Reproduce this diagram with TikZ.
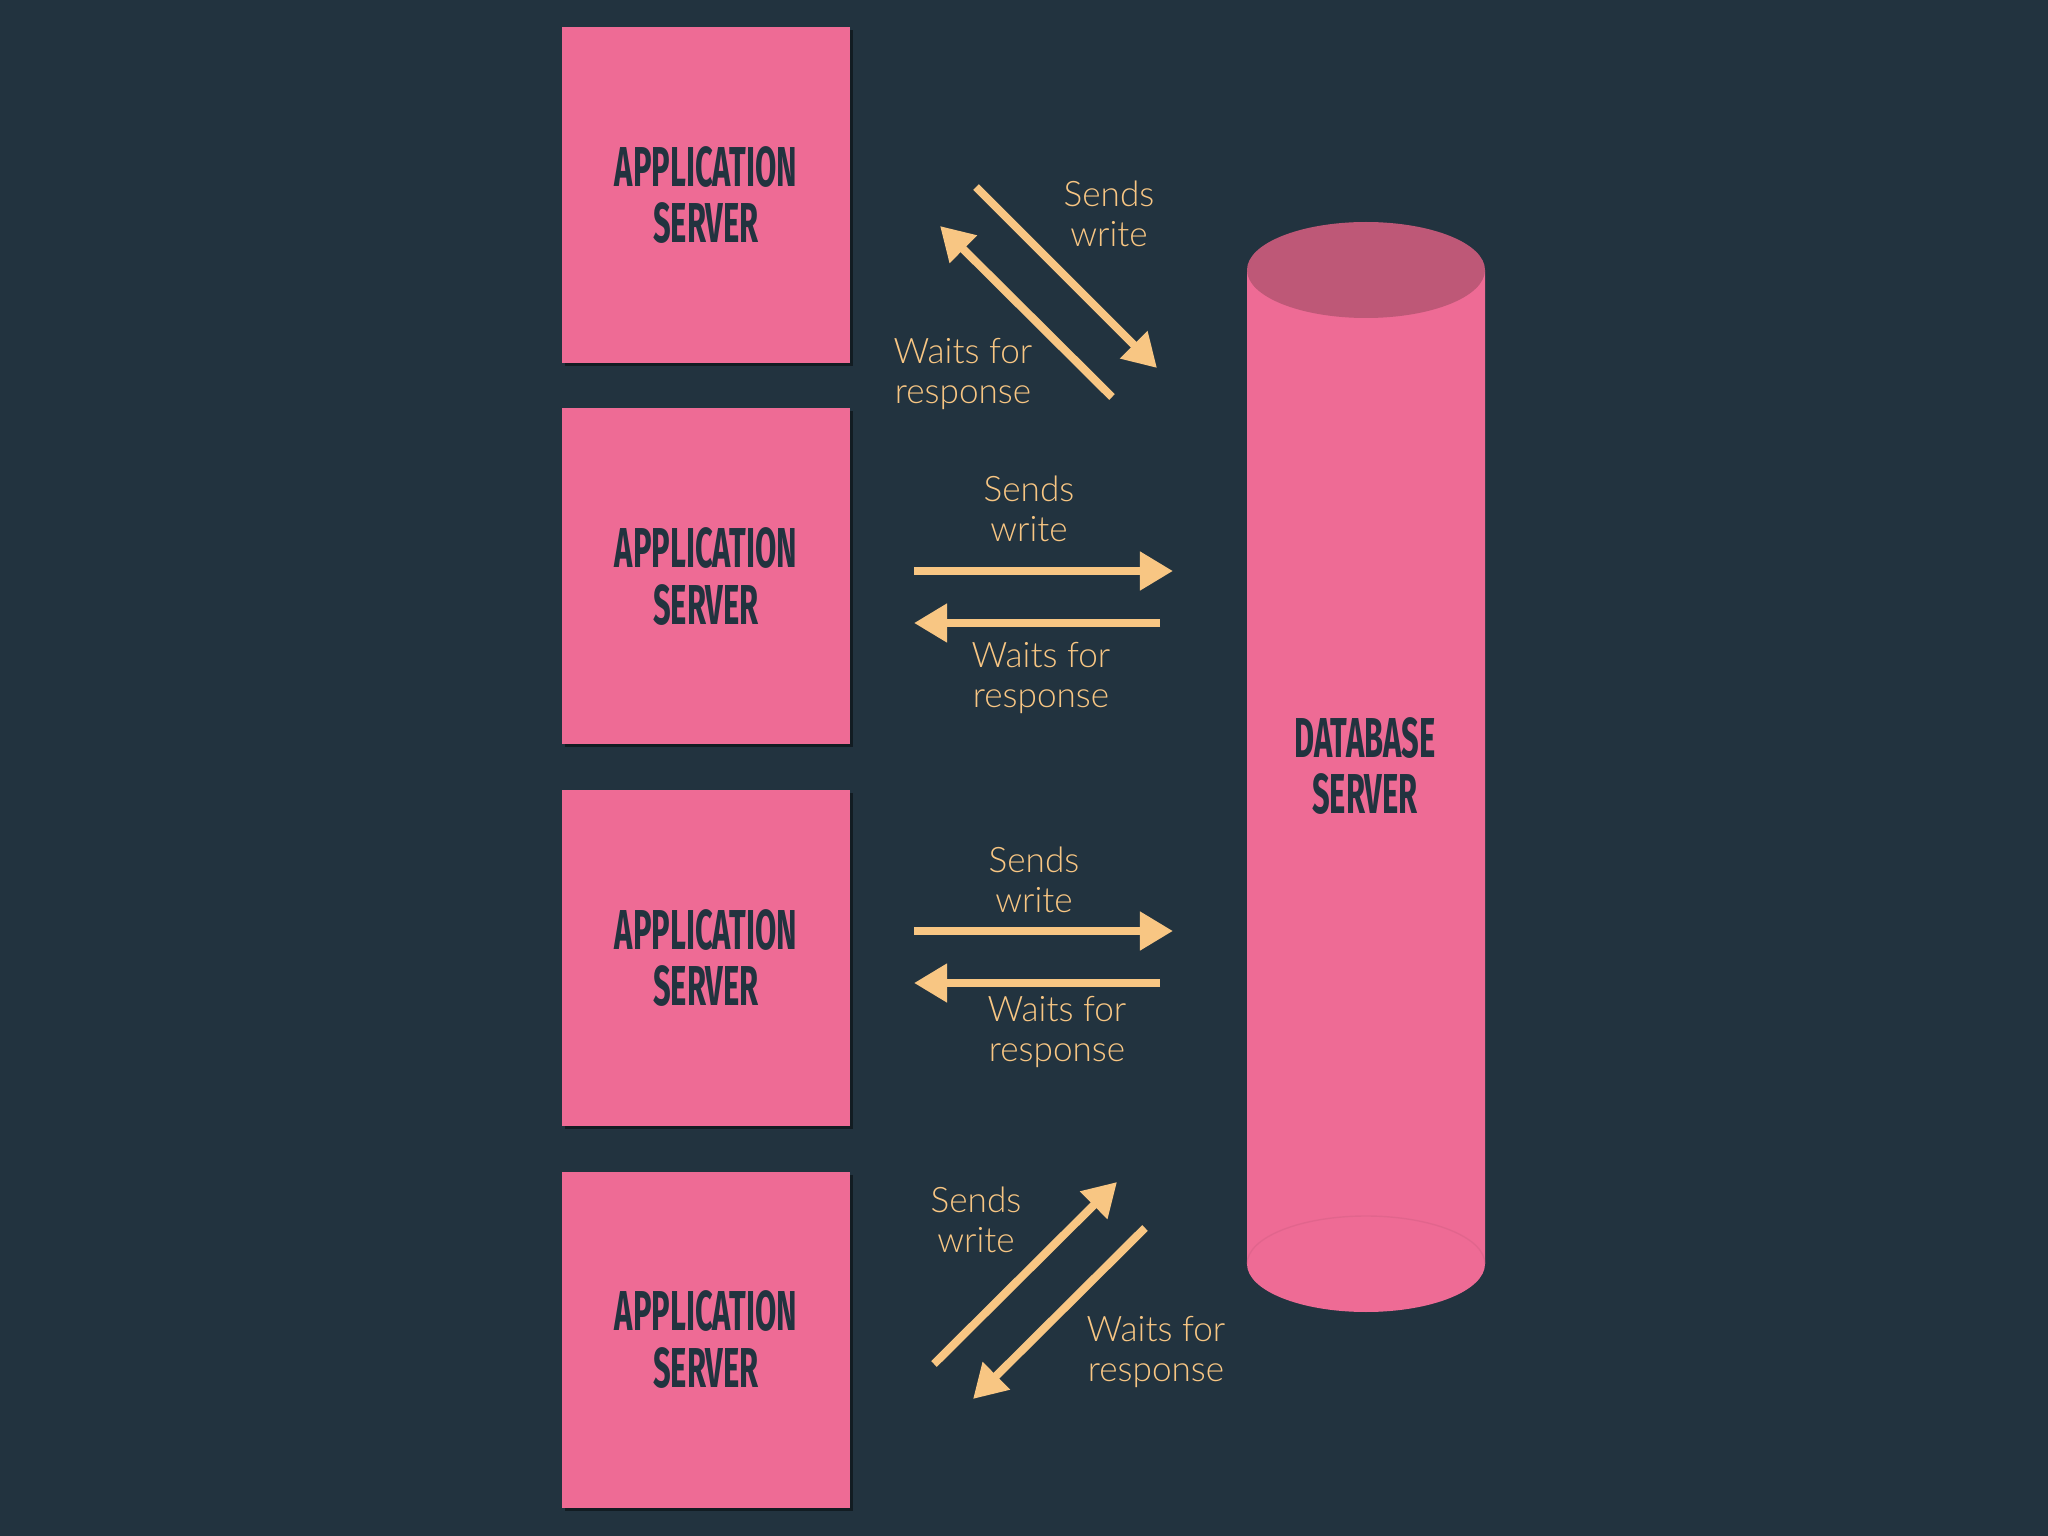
\documentclass[tikz,border=0pt]{standalone}
\usepackage{fontspec}
\setmainfont{Lato}[UprightFont={* Light}]
\newfontfamily\bebas[FakeStretch=0.55]{Fira Sans}
\usetikzlibrary{arrows.meta}
\usetikzlibrary{shadows}

\definecolor{bgslate}{HTML}{22333F}
\definecolor{boxpink}{HTML}{EE6B95}
\definecolor{toppink}{HTML}{BE5877}
\definecolor{peach}{HTML}{F8C683}

\tikzset{
  appbox/.style={fill=boxpink, minimum width=2.88cm, minimum height=3.36cm, inner sep=0pt, align=center,
    font=\bebas\bfseries\fontsize{16}{16.2}\selectfont, text=bgslate,
    drop shadow={shadow xshift=0.03cm, shadow yshift=-0.03cm, fill=black, opacity=0.45}},
  msg/.style={draw=peach, line width=2.3pt, -{Triangle[length=9.4pt,width=10.5pt]}},
  msglabel/.style={text=peach, align=center, inner sep=0pt, font=\fontsize{10}{11.4}\selectfont}
}

\begin{document}
\begin{tikzpicture}
\fill[bgslate] (0,0) rectangle (20.48,-15.36);
\useasboundingbox (0,0) rectangle (20.48,-15.36);

% application servers
\node[appbox] (app1) at (7.06,-1.95) {APPLICATION\\SERVER};
\node[appbox] (app2) at (7.06,-5.765) {APPLICATION\\SERVER};
\node[appbox] (app3) at (7.06,-9.58) {APPLICATION\\SERVER};
\node[appbox] (app4) at (7.06,-13.395) {APPLICATION\\SERVER};

% database cylinder
\fill[boxpink] (12.47,-2.70) -- (12.47,-12.64) arc (180:360:1.19 and 0.48) -- (14.85,-2.70) -- cycle;
\fill[toppink] (13.66,-2.70) ellipse (1.19 and 0.48);
\draw[boxpink!80!black, opacity=0.25] (12.47,-12.64) arc (180:0:1.19 and 0.48);
\node[font=\bebas\bfseries\fontsize{16}{16.2}\selectfont, text=bgslate, align=center] (db) at (13.65,-7.66) {DATABASE\\SERVER};

\coordinate (s1a) at (9.76,-1.87);
\coordinate (s1b) at (11.57,-3.68);
\coordinate (r1a) at (11.12,-3.97);
\coordinate (r1b) at (9.40,-2.26);

\coordinate (s2a) at (9.14,-5.71);
\coordinate (s2b) at (11.73,-5.71);
\coordinate (r2a) at (11.60,-6.23);
\coordinate (r2b) at (9.14,-6.23);

\coordinate (s3a) at (9.14,-9.31);
\coordinate (s3b) at (11.73,-9.31);
\coordinate (r3a) at (11.60,-9.83);
\coordinate (r3b) at (9.14,-9.83);

\coordinate (s4a) at (9.34,-13.64);
\coordinate (s4b) at (11.17,-11.82);
\coordinate (r4a) at (11.45,-12.28);
\coordinate (r4b) at (9.73,-13.99);

\draw[msg] (s1a) -- (s1b);
\draw[msg] (r1a) -- (r1b);
\draw[msg] (s2a) -- (s2b);
\draw[msg] (r2a) -- (r2b);
\draw[msg] (s3a) -- (s3b);
\draw[msg] (r3a) -- (r3b);
\draw[msg] (s4a) -- (s4b);
\draw[msg] (r4a) -- (r4b);

\node[msglabel] (l1s) at (11.09,-2.14) {Sends\\write};
\node[msglabel] (l1r) at (9.63,-3.74) {Waits for\\response};
\node[msglabel] (l2s) at (10.29,-5.09) {Sends\\write};
\node[msglabel] (l2r) at (10.41,-6.78) {Waits for\\response};
\node[msglabel] (l3s) at (10.34,-8.80) {Sends\\write};
\node[msglabel] (l3r) at (10.57,-10.32) {Waits for\\response};
\node[msglabel] (l4s) at (9.76,-12.20) {Sends\\write};
\node[msglabel] (l4r) at (11.56,-13.52) {Waits for\\response};
\end{tikzpicture}
\end{document}
